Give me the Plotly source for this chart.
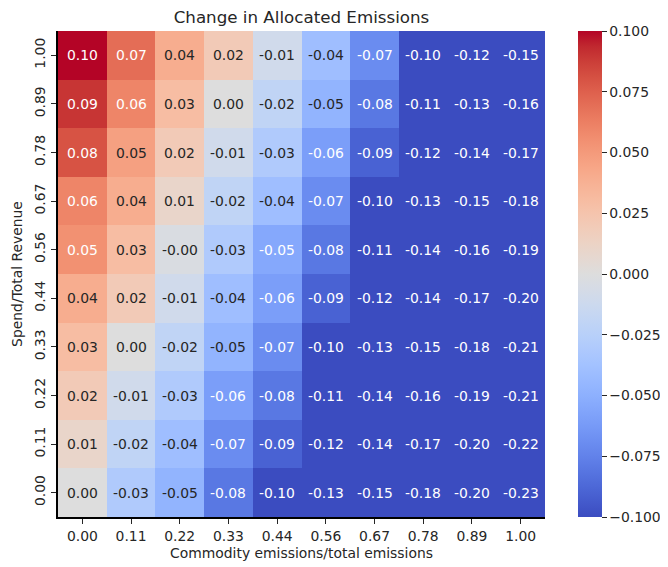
import plotly.graph_objects as go

x_labels = ["0.00", "0.11", "0.22", "0.33", "0.44", "0.56", "0.67", "0.78", "0.89", "1.00"]
y_labels = ["1.00", "0.89", "0.78", "0.67", "0.56", "0.44", "0.33", "0.22", "0.11", "0.00"]

row_100 = [0.10, 0.07, 0.04, 0.02, -0.01, -0.04, -0.07, -0.10, -0.12, -0.15]
row_089 = [0.09, 0.06, 0.03, 0.00, -0.02, -0.047, -0.08, -0.11, -0.13, -0.16]
row_078 = [0.08, 0.047, 0.02, -0.01, -0.03, -0.06, -0.09, -0.12, -0.14, -0.17]
row_067 = [0.06, 0.04, 0.01, -0.02, -0.04, -0.07, -0.10, -0.13, -0.15, -0.18]
row_056 = [0.0545, 0.03, -0.003, -0.03, -0.0545, -0.08, -0.11, -0.14, -0.16, -0.19]
row_044 = [0.04, 0.02, -0.01, -0.04, -0.06, -0.09, -0.12, -0.14, -0.17, -0.20]
row_033 = [0.03, 0.00, -0.02, -0.047, -0.07, -0.10, -0.13, -0.15, -0.18, -0.21]
row_022 = [0.02, -0.01, -0.03, -0.06, -0.08, -0.11, -0.14, -0.16, -0.19, -0.21]
row_011 = [0.01, -0.02, -0.04, -0.07, -0.09, -0.12, -0.14, -0.17, -0.20, -0.22]
row_000 = [0.00, -0.03, -0.047, -0.08, -0.10, -0.13, -0.15, -0.18, -0.20, -0.23]

z = [row_100, row_089, row_078, row_067, row_056, row_044, row_033, row_022, row_011, row_000]

cbar_vals = [-0.1, -0.075, -0.05, -0.025, 0.0, 0.025, 0.05, 0.075, 0.1]
cbar_text = ["\u22120.100", "\u22120.075", "\u22120.050", "\u22120.025", "0.000", "0.025", "0.050", "0.075", "0.100"]

vmin, vmax = -0.1, 0.1
FS = 13.9      # 10pt at 100 dpi
FS_TITLE = 16.7  # 12pt at 100 dpi

# matplotlib 'coolwarm' (Moreland) control points
cw = [
    (59, 76, 192), (68, 90, 204), (77, 104, 215), (87, 117, 225), (98, 130, 234),
    (108, 142, 241), (119, 154, 247), (130, 165, 251), (141, 176, 254), (152, 185, 255),
    (163, 194, 255), (174, 201, 253), (184, 208, 249), (194, 213, 244), (204, 217, 238),
    (213, 219, 230), (221, 221, 221), (229, 216, 209), (236, 211, 197), (241, 204, 185),
    (245, 196, 173), (247, 187, 160), (247, 177, 148), (247, 166, 135), (244, 154, 123),
    (241, 141, 111), (236, 127, 99), (229, 112, 88), (222, 96, 77), (213, 80, 66),
    (203, 62, 56), (192, 40, 47), (180, 4, 38),
]
n = len(cw) - 1
colorscale = [[i / n, "rgb(%d,%d,%d)" % c] for i, c in enumerate(cw)]


def cmap(t):
    t = min(max(t, 0.0), 1.0)
    p = t * n
    i = min(int(p), n - 1)
    f = p - i
    return tuple((cw[i][k] + (cw[i + 1][k] - cw[i][k]) * f) / 255.0 for k in range(3))


def lum(rgb):
    def lin(c):
        return c / 12.92 if c <= 0.03928 else ((c + 0.055) / 1.055) ** 2.4
    r, g, b = (lin(c) for c in rgb)
    return 0.2126 * r + 0.7152 * g + 0.0722 * b


fig = go.Figure()
fig.add_trace(go.Heatmap(
    z=z, x=x_labels, y=y_labels,
    zmin=vmin, zmax=vmax,
    colorscale=colorscale,
    hoverinfo="skip",
    colorbar=dict(
        x=1.068, xanchor="left", xref="paper", xpad=0, ypad=0,
        y=0.5, yanchor="middle", len=1.0, lenmode="fraction",
        thickness=24, outlinewidth=0,
        tickvals=cbar_vals, ticktext=cbar_text,
        ticks="outside", ticklen=5, tickwidth=1, tickcolor="#262626",
        tickfont=dict(family="DejaVu Sans", size=FS, color="#262626"),
    ),
))

annotations = []
for r in range(len(y_labels)):
    for c in range(len(x_labels)):
        v = z[r][c]
        t = (v - vmin) / (vmax - vmin)
        col = "#262626" if lum(cmap(t)) > 0.408 else "#ffffff"
        annotations.append(dict(
            x=c, y=r, xref="x", yref="y",
            text=f"{v:.2f}", showarrow=False,
            font=dict(family="DejaVu Sans", size=FS, color=col),
        ))

# page body has an 8px default margin, so the figure is sized/offset to compensate
fig.update_layout(
    width=660, height=559,
    margin=dict(l=50, r=123, t=23, b=50, pad=0, autoexpand=False),
    paper_bgcolor="white", plot_bgcolor="white",
    font=dict(family="DejaVu Sans", size=FS, color="#262626"),
    title=dict(
        text="Change in Allocated Emissions",
        x=0.5, xref="paper", xanchor="center",
        y=1, yref="paper", yanchor="bottom", pad=dict(b=8),
        font=dict(family="DejaVu Sans", size=FS_TITLE, color="#262626"),
    ),
    annotations=annotations,
)
fig.update_xaxes(
    type="category", showgrid=False, zeroline=False, automargin=False,
    showline=True, linewidth=2, linecolor="black", mirror=False,
    ticks="outside", ticklen=5, tickwidth=1, tickcolor="#262626",
    tickfont=dict(family="DejaVu Sans", size=FS, color="#262626"),
    title=dict(text="Commodity emissions/total emissions", standoff=6,
               font=dict(family="DejaVu Sans", size=FS, color="#262626")),
)
fig.update_yaxes(
    type="category", autorange="reversed", showgrid=False, zeroline=False,
    automargin=False,
    showline=True, linewidth=2, linecolor="black", mirror=False,
    ticks="outside", ticklen=5, tickwidth=1, tickcolor="#262626",
    tickangle=-90,
    tickfont=dict(family="DejaVu Sans", size=FS, color="#262626"),
    title=dict(text="Spend/Total Revenue", standoff=7,
               font=dict(family="DejaVu Sans", size=FS, color="#262626")),
)

fig.write_html("out.html")
